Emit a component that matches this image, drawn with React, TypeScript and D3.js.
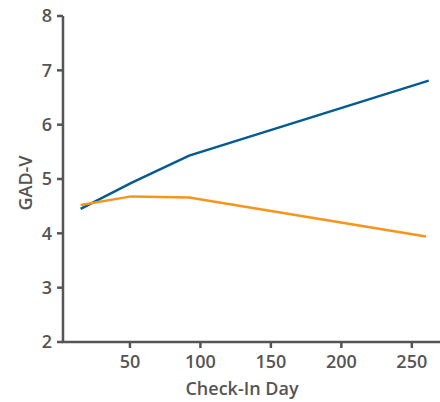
import React from "react";
import * as d3 from "d3";

const days = [15, 51, 92, 262];
const blueValues = [4.45, 4.93, 5.43, 6.81];
const orangeDays = [15, 51, 92, 260];
const orangeValues = [4.52, 4.68, 4.66, 3.94];
const xTicks = [50, 100, 150, 200, 250];
const yTicks = [2, 3, 4, 5, 6, 7, 8];

const W = 440, H = 402;
const FONT = "'Open Sans', sans-serif";
const GREY = "#555555";

export default function App() {
  const x = d3.scaleLinear().domain([2.5, 270]).range([63, 440]);
  const y = d3.scaleLinear().domain([2, 8]).range([342, 16]);
  const line = d3.line<[number, number]>().x(d => x(d[0])).y(d => y(d[1]));
  const blue = days.map((d, i) => [d, blueValues[i]] as [number, number]);
  const orange = orangeDays.map((d, i) => [d, orangeValues[i]] as [number, number]);
  return (
    <svg width={W} height={H} style={{ position: "absolute", left: 0, top: 0 }}>
      <line x1={x(2.5)} x2={x(2.5)} y1={y(8)} y2={y(2)} stroke={GREY} strokeWidth={2.5} />
      <line x1={x(2.5) - 1.25} x2={440} y1={y(2)} y2={y(2)} stroke={GREY} strokeWidth={2.5} />
      {yTicks.map(t => (
        <g key={"y" + t}>
          <line x1={x(2.5) - 6} x2={x(2.5)} y1={y(t)} y2={y(t)} stroke={GREY} strokeWidth={2.5} />
          <text x={52} y={y(t)} dy="0.36em" textAnchor="end" fontFamily={FONT} fontWeight={600} fontSize={18} fill={GREY}>{t}</text>
        </g>
      ))}
      {xTicks.map(t => (
        <g key={"x" + t}>
          <line x1={x(t)} x2={x(t)} y1={y(2)} y2={y(2) + 6} stroke={GREY} strokeWidth={2.5} />
          <text x={x(t)} y={368} textAnchor="middle" fontFamily={FONT} fontWeight={600} fontSize={18} fill={GREY}>{t}</text>
        </g>
      ))}
      <text x={242} y={395} textAnchor="middle" fontFamily={FONT} fontWeight={600} fontSize={18} fill={GREY}>Check-In Day</text>
      <text transform={`translate(32,183) rotate(-90)`} textAnchor="middle" fontFamily={FONT} fontWeight={600} fontSize={18} fill={GREY}>GAD-V</text>
      <path d={line(blue) || ""} fill="none" stroke="#045a93" strokeWidth={2.5} />
      <path d={line(orange) || ""} fill="none" stroke="#f7941d" strokeWidth={2.5} />
    </svg>
  );
}
